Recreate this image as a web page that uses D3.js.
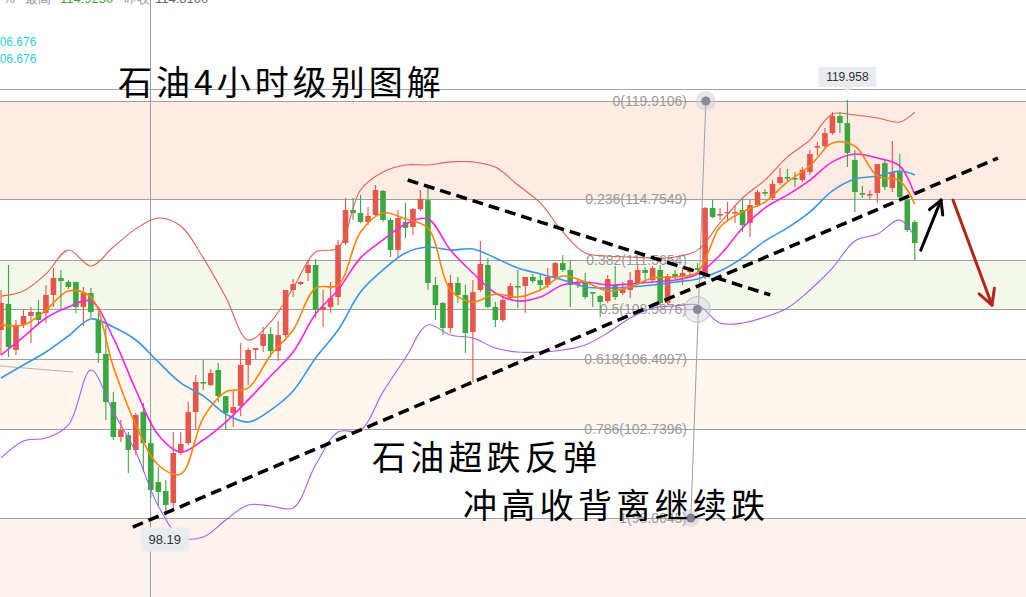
<!DOCTYPE html>
<html><head><meta charset="utf-8">
<script src="https://cdn.jsdelivr.net/npm/d3@7"></script>
<style>html,body{margin:0;padding:0;background:#fff;overflow:hidden}svg{display:block}</style>
</head><body><svg id="c" width="1026" height="597"></svg>
<script>
// ---------- DATA ----------
const openP = [107.91,109.28,106.87,108.18,108.65,108.86,108.80,109.75,110.64,110.43,
110.43,109.12,109.85,108.44,106.66,104.14,102.31,102.41,101.63,103.62,
101.99,99.95,99.48,98.85,101.47,101.99,103.62,105.19,105.03,105.82,
104.45,103.57,103.93,106.08,106.87,107.08,107.70,106.81,107.65,110.01,
110.32,110.90,111.32,108.96,109.12,109.64,112.47,114.20,114.04,113.57,
113.94,115.20,113.68,112.10,113.57,113.31,114.25,114.72,110.27,109.33,
108.02,110.38,109.75,107.81,110.01,111.32,109.12,108.44,109.59,110.22,
110.22,110.69,110.53,110.27,110.69,111.42,111.06,110.27,110.43,109.90,
109.69,109.43,110.22,109.85,110.01,110.38,111.06,110.53,111.06,109.33,
110.85,110.74,110.95,111.16,110.69,114.31,113.94,114.04,114.04,114.20,
113.52,114.46,115.14,114.83,115.61,115.93,115.88,115.77,116.19,117.50,
117.55,118.23,119.12,118.76,116.82,115.09,114.99,115.09,116.66,115.35,
116.19,114.72,113.57];
const closeP = [109.33,107.02,108.18,108.65,108.86,108.44,109.75,110.64,110.48,110.17,
109.12,109.85,108.86,106.71,104.14,102.31,102.67,101.63,103.46,101.99,
99.53,99.43,98.75,101.47,101.94,103.62,105.19,105.14,105.66,104.45,
103.57,103.88,106.08,106.87,106.97,107.70,106.81,107.65,110.01,110.32,
110.43,111.32,108.96,109.12,109.59,112.37,114.20,114.04,113.57,113.89,
115.25,113.68,112.10,113.78,113.26,114.25,114.78,110.38,109.22,108.02,
110.38,109.75,107.75,109.90,111.37,109.12,108.44,109.49,110.22,110.17,
110.69,110.48,110.27,110.69,111.42,111.06,110.27,110.43,109.64,109.85,
109.38,110.58,109.64,110.06,110.53,111.06,110.90,111.16,109.33,110.74,
110.69,110.90,111.06,111.06,114.31,113.83,113.99,114.10,114.10,113.41,
114.46,115.14,115.09,115.56,115.93,115.88,115.82,116.30,117.13,117.55,
118.23,119.12,118.76,117.19,115.14,115.04,115.04,116.61,115.41,116.19,
114.88,113.15,112.47];
const highP = [110.01,111.32,108.44,109.01,109.12,109.49,110.27,111.16,111.06,110.53,
110.43,110.17,110.11,108.86,108.18,104.67,103.20,102.57,103.57,104.09,
103.20,100.74,100.06,102.57,102.57,104.14,105.56,106.34,105.87,106.18,
104.45,104.77,107.23,106.97,106.97,108.07,108.07,108.39,110.01,110.58,
110.48,111.58,111.63,110.01,110.43,112.63,114.83,114.83,114.99,114.36,
115.51,115.25,113.78,114.20,114.57,114.31,115.25,115.35,110.69,109.38,
110.79,110.69,110.27,110.53,112.58,111.69,109.38,109.64,110.38,111.06,
110.69,110.85,110.90,111.16,111.48,111.84,111.53,110.64,110.90,109.90,
109.75,110.79,111.27,110.43,110.95,111.32,111.22,111.27,111.32,110.85,
111.06,111.22,111.22,111.42,114.36,114.72,114.31,114.62,114.46,114.83,
114.72,115.25,115.30,115.77,116.40,116.35,116.19,116.45,117.34,117.76,
118.50,119.33,119.33,119.958,117.34,115.46,115.25,116.61,116.82,117.82,
117.13,114.83,113.68];
const lowP = [106.60,106.50,106.60,108.02,107.23,108.18,108.28,109.12,108.96,110.06,
108.80,108.12,108.54,106.18,103.20,102.15,102.05,100.42,101.37,100.47,
99.11,98.64,98.19,98.59,101.37,101.89,102.67,104.77,104.98,104.14,
102.67,102.83,103.41,105.03,106.39,106.76,106.50,106.29,107.55,109.64,
110.27,110.48,108.54,108.07,108.80,109.22,112.37,113.68,113.52,113.41,
113.83,113.57,111.74,111.74,112.73,112.89,114.15,110.01,108.44,107.65,
107.75,109.33,106.71,105.19,109.90,109.07,108.07,108.33,109.49,109.07,
108.80,110.38,110.01,110.11,110.58,110.95,109.12,110.11,109.54,109.12,
108.59,109.33,109.49,109.75,109.59,110.27,110.43,110.43,109.22,109.22,
110.58,110.27,110.79,110.90,110.58,113.78,113.68,113.68,113.52,113.05,
112.79,114.36,114.93,114.72,115.51,115.67,115.41,115.67,116.03,117.08,
117.45,118.13,118.23,116.45,114.10,114.83,114.72,114.57,115.25,115.14,
114.78,113.05,111.58];

// indicator lines, sampled at candle indices
const lineIdx = d3.range(0, 121, 3).concat([122]);
const bollUpper = [109.69,109.96,110.85,112.10,111.27,112.26,113.21,113.78,113.36,111.69,109.64,107.39,108.33,110.11,112.00,112.21,115.25,116.19,116.56,116.56,116.72,116.72,116.45,115.51,114.57,113.05,111.95,111.79,111.74,111.69,111.74,112.10,113.52,114.83,115.77,116.98,117.87,119.23,119.18,119.02,118.81,119.33];
const bollLower = [101.21,102.10,102.26,102.94,105.82,103.62,101.52,98.69,97.07,97.07,97.96,98.75,98.69,98.59,100.84,102.57,102.67,104.67,106.45,108.18,107.65,107.49,106.97,106.76,106.76,106.87,107.13,107.76,108.54,109.07,109.17,109.22,108.28,108.28,108.59,109.07,110.01,111.16,112.58,112.94,113.68,112.79];
const ma20 = [105.40,106.08,106.76,107.60,108.49,108.07,107.39,106.24,105.14,104.46,103.51,103.09,103.72,104.72,106.45,107.91,109.90,111.06,111.95,112.26,112.10,112.16,111.69,111.16,110.85,110.53,110.17,110.11,110.17,110.27,110.43,110.59,111.00,111.69,112.58,113.26,114.10,115.20,115.82,115.98,116.24,116.03];
const ma10 = [106.60,107.55,108.54,109.12,109.43,107.49,104.77,102.41,101.52,102.15,103.09,104.25,105.50,106.76,108.75,110.01,111.69,112.63,113.47,113.73,112.10,110.90,109.85,109.43,109.64,110.27,110.43,110.27,110.32,110.43,110.53,110.85,111.84,113.26,114.31,114.99,115.77,116.72,117.13,116.92,116.51,114.99];
const ma5 = [108.18,108.18,108.96,109.96,109.64,105.98,102.94,100.84,100.37,103.30,104.67,104.88,106.60,107.91,110.11,110.27,113.05,114.04,113.73,113.26,110.01,109.38,109.80,109.64,110.01,110.74,110.43,109.96,110.17,110.64,110.69,110.95,113.31,114.10,114.62,115.67,116.51,117.71,117.55,115.98,115.72,114.51];

// Fibonacci retracement
const fibRatios = ["0","0.236","0.382","0.5","0.618","0.786","1"];
const fibPrices = [119.9106,114.7549,111.5654,108.9876,106.4097,102.7396,98.0645];
const fibBandFill = ["#fdebe4","#ffffff","#f4f8eb","#ffffff","#fef6ef","#ffffff"];
const fibAnchorIdx = [94.1, 92.1];  // top anchor, bottom anchor

// annotations (candle index, price)
const riseLine = [[17.6, 97.59],[133.1, 116.92]];
const fallLine = [[54.3, 115.77],[102.7, 109.75]];
const upArrow = [[122.8, 112.10],[125.5, 114.72]];
const downArrow = [[127.1, 114.72],[132.3, 109.22]];

const titleText = "石油4小时级别图解";
const note1 = "石油超跌反弹";
const note2 = "冲高收背离继续跌";
const highLabel = "119.958";
const lowLabel = "98.19";

// ---------- DRAW ----------
const W = 1026, H = 597;
const svg = d3.select("#c");
const x = d3.scaleLinear().domain([0, 122]).range([1, 914.8]);
const y = d3.scaleLinear().domain([98.0645, 119.9106]).range([518, 101]);

// background bands
const bg = svg.append("g");
bg.append("rect").attr("x",0).attr("y",0).attr("width",W).attr("height",H).attr("fill","#fff");
fibBandFill.forEach((c,i)=>{
  bg.append("rect").attr("x",0).attr("width",W)
    .attr("y", y(fibPrices[i])).attr("height", y(fibPrices[i+1]) - y(fibPrices[i]))
    .attr("fill", c);
});
bg.append("rect").attr("x",0).attr("width",W).attr("y", y(fibPrices[6])).attr("height", H - y(fibPrices[6])).attr("fill","#fdf2ed");

// top frame line
svg.append("line").attr("x1",0).attr("x2",W).attr("y1",89.5).attr("y2",89.5).attr("stroke","#a6a6b0").attr("stroke-width",1);

// fib lines
fibPrices.forEach(p=>{
  svg.append("line").attr("x1",0).attr("x2",W)
    .attr("y1", Math.round(y(p))+0.5).attr("y2", Math.round(y(p))+0.5)
    .attr("stroke","#a0a0a8").attr("stroke-width",1);
});

// crosshair vertical at candle 20
svg.append("line").attr("x1", Math.round(x(20))-0.5).attr("x2", Math.round(x(20))-0.5).attr("y1",0).attr("y2",H)
  .attr("stroke","#9a9cb0").attr("stroke-width",1);

// small gray line at left
svg.append("line").attr("x1",0).attr("y1",366).attr("x2",73).attr("y2",372).attr("stroke","#b0b0b0").attr("stroke-width",1);

// top info (cut off by the frame, as in the source)
const info = svg.append("g").attr("font-family","'Liberation Sans', Arial, sans-serif").attr("font-size",13);
info.append("text").attr("x",-4).attr("y",3).attr("fill","#999").text("7%");
info.append("text").attr("x",25).attr("y",3).attr("fill","#999").text("最高");
info.append("text").attr("x",60).attr("y",3).attr("fill","#3aa841").text("114.9230");
info.append("text").attr("x",124).attr("y",3).attr("fill","#999").text("昨收");
info.append("text").attr("x",155).attr("y",3).attr("fill","#666").text("114.8100");
info.append("text").attr("x",-7).attr("y",46).attr("fill","#2ad0ee").attr("font-size",12).text("106.676");
info.append("text").attr("x",-7).attr("y",63).attr("fill","#2ad0ee").attr("font-size",12).text("106.676");

// fib labels
const fibG = svg.append("g").attr("font-family","'Liberation Sans', Arial, sans-serif").attr("font-size",14).attr("fill","#9a9a9a");
fibPrices.forEach((p,i)=>{
  fibG.append("text").attr("x",687).attr("y", y(p)).attr("text-anchor","end").attr("dominant-baseline","central")
    .text(fibRatios[i] + "(" + p.toFixed(4) + ")");
});

// fib vertical connector + anchors
const fTop = [x(fibAnchorIdx[0]), y(fibPrices[0])];
const fBot = [x(fibAnchorIdx[1]), y(fibPrices[6])];
svg.append("line").attr("x1",fTop[0]).attr("y1",fTop[1]).attr("x2",fBot[0]).attr("y2",fBot[1]).attr("stroke","#a0a0a8").attr("stroke-width",1);

// candles
const cg = svg.append("g");
const bw = 5.6;
openP.forEach((o,i)=>{
  const c = closeP[i], up = c >= o;
  const col = up ? "#e6564a" : "#3aa841";
  const cx = x(i);
  cg.append("line").attr("x1",cx).attr("x2",cx).attr("y1",y(highP[i])).attr("y2",y(lowP[i])).attr("stroke",col).attr("stroke-width",1.1);
  const top = y(Math.max(o,c)), bot = y(Math.min(o,c));
  cg.append("rect").attr("x",cx-bw/2).attr("width",bw).attr("y",top).attr("height",Math.max(1.6, bot-top)).attr("fill",col);
});

// indicator lines
const lineGen = d3.line().x((d,i)=>x(lineIdx[i])).y(d=>y(d)).curve(d3.curveCatmullRom.alpha(0.5));
svg.append("path").attr("d",lineGen(bollUpper)).attr("fill","none").attr("stroke","#e0634f").attr("stroke-width",1.1);
svg.append("path").attr("d",lineGen(bollLower)).attr("fill","none").attr("stroke","#a55ef2").attr("stroke-width",1.1);
svg.append("path").attr("d",lineGen(ma20)).attr("fill","none").attr("stroke","#3796ee").attr("stroke-width",1.6);
svg.append("path").attr("d",lineGen(ma10)).attr("fill","none").attr("stroke","#ff22e6").attr("stroke-width",1.6);
svg.append("path").attr("d",lineGen(ma5)).attr("fill","none").attr("stroke","#ff8400").attr("stroke-width",1.6);

// fib anchor circles
svg.append("circle").attr("cx",fTop[0]).attr("cy",fTop[1]).attr("r",10).attr("fill","#c8c8d0").attr("opacity",0.45);
svg.append("circle").attr("cx",fTop[0]).attr("cy",fTop[1]).attr("r",4.5).attr("fill","#878c9c");
const midX = (fTop[0]+fBot[0])/2 - 1, midY = y(fibPrices[3]);
svg.append("circle").attr("cx",midX).attr("cy",midY).attr("r",13).attr("fill","#d0d0d6").attr("opacity",0.4);
svg.append("circle").attr("cx",midX).attr("cy",midY).attr("r",13).attr("fill","none").attr("stroke","#c0c0c8").attr("stroke-width",1);
svg.append("circle").attr("cx",midX).attr("cy",midY).attr("r",4.5).attr("fill","#8a8a90");
svg.append("circle").attr("cx",fBot[0]).attr("cy",fBot[1]).attr("r",9).attr("fill","#c8c8d0").attr("opacity",0.45);
svg.append("circle").attr("cx",fBot[0]).attr("cy",fBot[1]).attr("r",4.5).attr("fill","#7c8298");

// trend lines
const pt = d => [x(d[0]), y(d[1])];
[riseLine, fallLine].forEach(l=>{
  const a = pt(l[0]), b = pt(l[1]);
  svg.append("line").attr("x1",a[0]).attr("y1",a[1]).attr("x2",b[0]).attr("y2",b[1])
    .attr("stroke","#000").attr("stroke-width",3.5).attr("stroke-dasharray","11,6");
});

// arrows
function arrow(l, color, len){
  const a = pt(l[0]), b = pt(l[1]);
  const ang = Math.atan2(b[1]-a[1], b[0]-a[0]);
  const g = svg.append("g").attr("stroke",color).attr("stroke-width",3).attr("stroke-linecap","round").attr("fill","none");
  g.append("line").attr("x1",a[0]).attr("y1",a[1]).attr("x2",b[0]).attr("y2",b[1]);
  [-0.5, 0.5].forEach(s=>{
    g.append("line").attr("x1",b[0]).attr("y1",b[1])
      .attr("x2", b[0] - len*Math.cos(ang+s)).attr("y2", b[1] - len*Math.sin(ang+s));
  });
}
arrow(upArrow, "#000", 15);
arrow(downArrow, "#b3241a", 17);

// high / low labels
const hiIdx = highP.indexOf(d3.max(highP));
const hx = x(hiIdx), hy = y(highP[hiIdx]);
svg.append("path").attr("d", `M${hx-29},${hy-33} h58 v20 h-24 l-5,5 l-5,-5 h-24 z`).attr("fill","#e8ebef");
svg.append("text").attr("x",hx).attr("y",hy-23).attr("text-anchor","middle").attr("dominant-baseline","central")
  .attr("font-family","'Liberation Sans', Arial, sans-serif").attr("font-size",12).attr("fill","#333").text(highLabel);
const loIdx = lowP.indexOf(d3.min(lowP));
const lx = x(loIdx)-1, ly = y(lowP[loIdx]);
svg.append("rect").attr("x",lx-24).attr("y",ly+12).attr("width",48).attr("height",24).attr("rx",3).attr("fill","#e8ebef");
svg.append("text").attr("x",lx).attr("y",ly+24).attr("text-anchor","middle").attr("dominant-baseline","central")
  .attr("font-family","'Liberation Sans', Arial, sans-serif").attr("font-size",13).attr("fill","#333").text(lowLabel);

// titles
const tf = "'Noto Sans CJK SC', sans-serif";
svg.append("text").attr("x",118).attr("y",80).attr("dominant-baseline","central").attr("font-family",tf)
  .attr("font-size",34).attr("letter-spacing",4).attr("fill","#000").text(titleText);
svg.append("text").attr("x",372).attr("y",455).attr("dominant-baseline","central").attr("font-family",tf)
  .attr("font-size",34).attr("letter-spacing",4.2).attr("fill","#000").text(note1);
svg.append("text").attr("x",463).attr("y",503).attr("dominant-baseline","central").attr("font-family",tf)
  .attr("font-size",34).attr("letter-spacing",4.3).attr("fill","#000").text(note2);
</script></body></html>
